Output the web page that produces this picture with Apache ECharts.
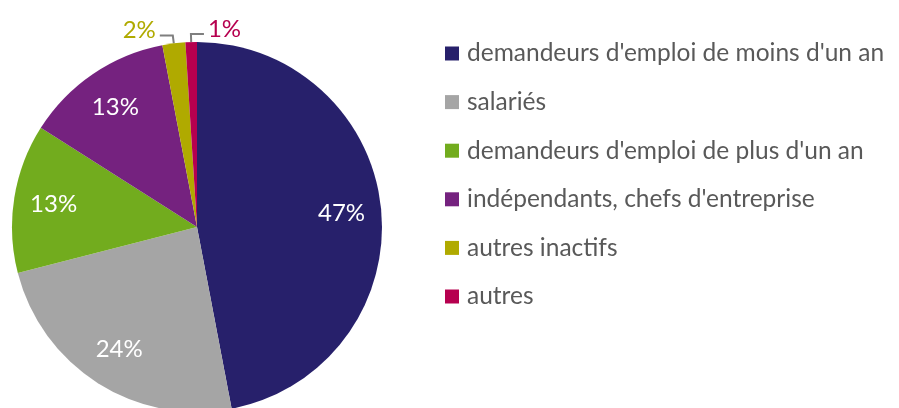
<!DOCTYPE html>
<html><head><meta charset="utf-8">
<script src="https://cdn.jsdelivr.net/npm/echarts@6/dist/echarts.min.js"></script>
<style>html,body{margin:0;padding:0;background:#fff}#c{width:899px;height:408px}</style>
</head><body><div id="c"></div>
<script>
var categories = ["demandeurs d'emploi de moins d'un an", "salariés", "demandeurs d'emploi de plus d'un an", "indépendants, chefs d'entreprise", "autres inactifs", "autres"];
var values = [47, 24, 13, 13, 2, 1];
var colors = ['#27206b', '#a5a5a5', '#72ac1e', '#75227f', '#b0aa00', '#b6004f'];
var outside = [false, false, false, false, true, true];

var CX = 197, CY = 227, R = 185;
var FONT = 'Lato, "Open Sans", sans-serif';
var chart = echarts.init(document.getElementById('c'));
var data = categories.map(function (n, i) {
  var d = { name: n, value: values[i], itemStyle: { color: colors[i] } };
  if (outside[i]) {
    d.label = { position: 'outside', color: colors[i] };
    d.labelLine = { show: true, length: 8, length2: 13, smooth: false, lineStyle: { color: '#7f7f7f', width: 2 } };
  }
  return d;
});
chart.setOption({
  animation: false,
  legend: {
    orient: 'vertical', left: 440, top: 36, itemWidth: 14, itemHeight: 14, itemGap: 23.6,
    icon: 'rect',
    textStyle: { fontFamily: FONT, fontSize: 24.5, color: '#595959', lineHeight: 24, padding: [0, 0, 0, 3] },
    data: categories
  },
  series: [{
    type: 'pie', center: [CX, CY], radius: [0, R], startAngle: 90, clockwise: true,
    avoidLabelOverlap: false,
    label: { show: true, position: 'inside', formatter: '{c}%', fontFamily: FONT, fontSize: 24, color: '#ffffff' },
    labelLine: { show: false },
    emphasis: { disabled: true },
    data: data,
    labelLayout: function (p) {
      var lr = p.labelRect;
      var mx = lr.x + lr.width / 2, my = lr.y + lr.height / 2;
      if (!outside[p.dataIndex]) {
        var k = 1.52;
        return { x: CX + (mx - CX) * k, y: CY + (my - CY) * k, align: 'center', verticalAlign: 'middle' };
      }
      var pts = p.labelLinePoints;
      if (!pts) return {};
      var p0 = pts[0], p1 = pts[1], p2 = pts[2];
      var dir = p.dataIndex === 5 ? 1 : -1;
      var n1 = [p1[0], p1[1]];
      var n2 = [p1[0] + dir * Math.abs(p2[0] - p1[0]), p1[1]];
      return {
        x: n2[0] + dir * 4, y: n2[1] - 5,
        align: dir > 0 ? 'left' : 'right', verticalAlign: 'middle',
        labelLinePoints: [[p0[0], p0[1]], n1, n2]
      };
    }
  }]
});
</script></body></html>
